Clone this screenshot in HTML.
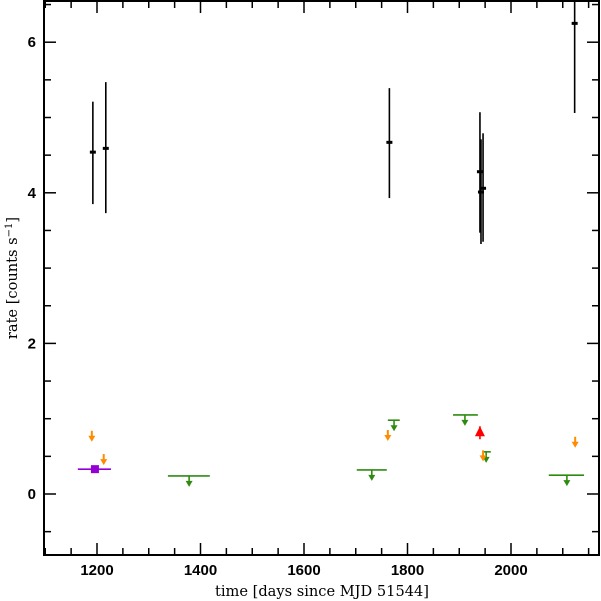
<!DOCTYPE html>
<html><head><meta charset="utf-8"><style>
html,body{margin:0;padding:0;background:#fff;width:601px;height:601px;overflow:hidden}
svg{display:block}
.tl{font-family:"Liberation Sans",sans-serif;font-size:15px;font-weight:bold;fill:#000}
.at{font-family:"DejaVu Serif","Liberation Serif",serif;font-size:14.6px;fill:#000}
</style></head><body>
<svg id="chart" width="601" height="601" viewBox="0 0 601 601" xmlns="http://www.w3.org/2000/svg">
<g id="marks"></g>
<rect x="44" y="1" width="555" height="554" fill="none" stroke="#000" stroke-width="2"/>
<g id="axes"></g>
<text class="at" x="322" y="596" text-anchor="middle">time [days since MJD 51544]</text>
<text class="at" transform="translate(17,278) rotate(-90)" text-anchor="middle">rate [counts s<tspan dy="-5" font-size="10">−1</tspan><tspan dy="5">]</tspan></text>
</svg>
<script>
const xTicks=[1200,1400,1600,1800,2000];
const yTicks=[0,2,4,6];
// detections: time, rate, lower, upper
const detT=[1192,1217,1765,1940,1942,1946,2123];
const detY=[4.54,4.59,4.67,4.28,4.01,4.06,6.25];
const detLo=[3.85,3.73,3.93,3.47,3.32,3.35,5.06];
const detHi=[5.21,5.47,5.39,5.07,4.71,4.79,6.8];
// green upper limits: center, start, end, value
const grT=[1378,1731,1774,1911,1952,2108];
const grStart=[1337,1702,1762,1888,1946,2073];
const grEnd=[1418,1760,1785,1936,1961,2141];
const grY=[0.24,0.32,0.98,1.05,0.56,0.25];
// orange upper limits
const orT=[1190,1213,1762,1946,2124];
const orY=[0.84,0.53,0.85,0.58,0.76];
// purple detection
const puT=[1196],puStart=[1163],puEnd=[1227],puY=[0.33];
// red point
const rdT=[1940],rdY=[0.82];

const X=d=>97+(d-1200)*0.5175;
const Y=v=>494-v*75.3;
const NS="http://www.w3.org/2000/svg";
const marks=document.getElementById('marks'),axes=document.getElementById('axes');
function mk(t,a,p){const e=document.createElementNS(NS,t);for(const k in a)e.setAttribute(k,a[k]);(p||marks).appendChild(e);return e;}
for(let d=1100;d<=2150;d+=50){const big=d%200===0;const len=big?12:7;
 const t1=mk('line',{x1:X(d),x2:X(d),y1:555,y2:555-len,stroke:'#000','stroke-width':1.5},axes);
 
 
 const t2=mk('line',{x1:X(d),x2:X(d),y1:1,y2:1+len,stroke:'#000','stroke-width':1.5},axes);
 
 }
for(let v=-0.5;v<=6.5;v+=0.5){const big=Math.abs(v%2)<1e-9;const len=big?12:7;
 const t1=mk('line',{x1:44,x2:44+len,y1:Y(v),y2:Y(v),stroke:'#000','stroke-width':1.5},axes);
 
 
 const t2=mk('line',{x1:599,x2:599-len,y1:Y(v),y2:Y(v),stroke:'#000','stroke-width':1.5},axes);
 
 }
xTicks.forEach(d=>{const t=mk('text',{x:X(d),y:575,'text-anchor':'middle',class:'tl'},axes);t.textContent=d;
 
 });
yTicks.forEach(v=>{const t=mk('text',{x:36,y:Y(v)+5,'text-anchor':'end',class:'tl'},axes);t.textContent=v;
 
 });
detT.forEach((d,i)=>{const g=mk('g',{});
 
 
 mk('line',{x1:X(d),x2:X(d),y1:Y(Math.min(detHi[i],6.55)),y2:Y(detLo[i]),stroke:'#000','stroke-width':1.6},g);
 mk('rect',{x:X(d)-3,y:Y(detY[i])-1.5,width:6,height:3,fill:'#000'},g);});
grT.forEach((d,i)=>{const g=mk('g',{});
 
 
 mk('line',{x1:X(grStart[i]),x2:X(grEnd[i]),y1:Y(grY[i]),y2:Y(grY[i]),stroke:'#2e8b10','stroke-width':1.6},g);
 const x=X(d),y=Y(grY[i]);
 mk('line',{x1:x,x2:x,y1:y,y2:y+7,stroke:'#2e8b10','stroke-width':1.6},g);
 mk('polygon',{points:`${x-3.5},${y+5} ${x+3.5},${y+5} ${x},${y+11}`,fill:'#2e8b10'},g);});
orT.forEach((d,i)=>{const g=mk('g',{});
 
 
 const x=X(d),y=Y(orY[i]);
 mk('line',{x1:x,x2:x,y1:y,y2:y+8,stroke:'#ff8c00','stroke-width':2},g);
 mk('polygon',{points:`${x-3.5},${y+5} ${x+3.5},${y+5} ${x},${y+11}`,fill:'#ff8c00'},g);});
puT.forEach((d,i)=>{const g=mk('g',{});
 
 
 mk('line',{x1:X(puStart[i]),x2:X(puEnd[i]),y1:Y(puY[i]),y2:Y(puY[i]),stroke:'#9400d3','stroke-width':1.6},g);
 mk('rect',{x:X(d)-4,y:Y(puY[i])-4,width:8,height:8,fill:'#9400d3'},g);});
rdT.forEach((d,i)=>{const g=mk('g',{});
 
 
 const x=X(d),y=Y(rdY[i]);
 mk('line',{x1:x,x2:x,y1:y-6,y2:y+7,stroke:'#ff0000','stroke-width':1.6},g);
 mk('polygon',{points:`${x-5},${y+4} ${x+5},${y+4} ${x},${y-6}`,fill:'#ff0000'},g);});
</script>
</body></html>
